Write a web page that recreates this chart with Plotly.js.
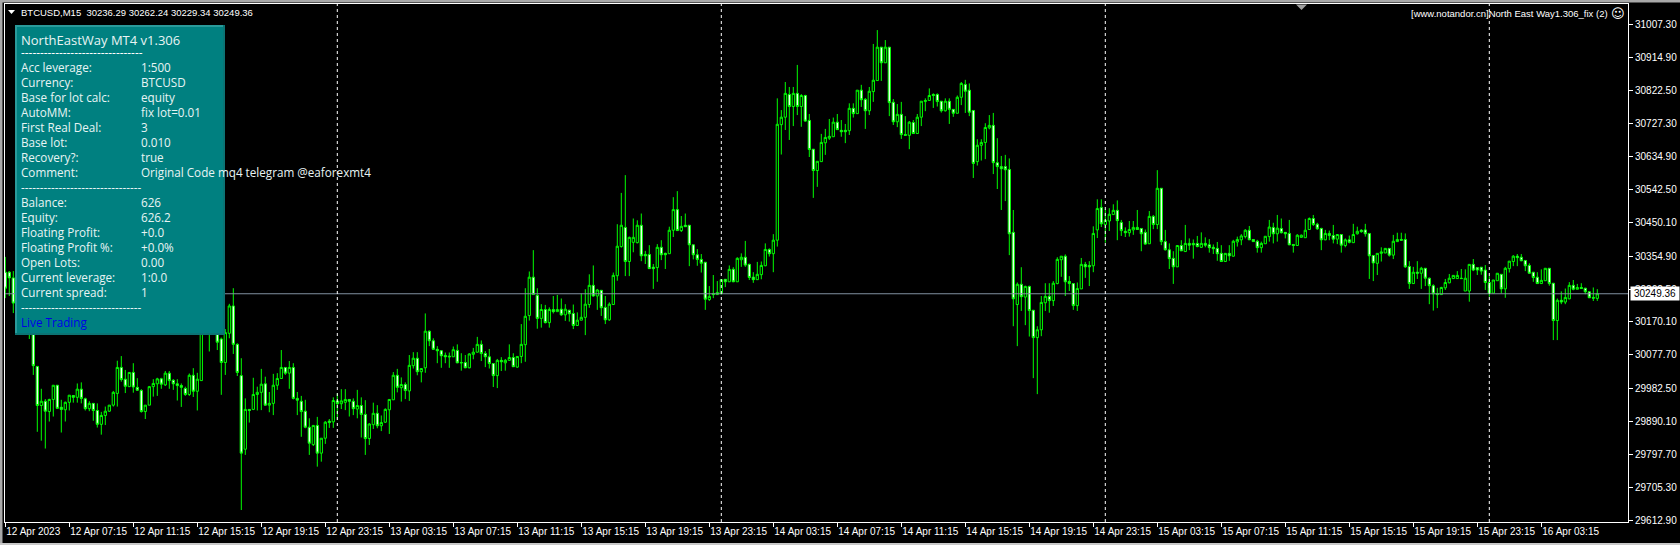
<!DOCTYPE html>
<html><head><meta charset="utf-8">
<script src="https://cdn.plot.ly/plotly-3.0.1.min.js"></script>
<style>html,body{margin:0;padding:0;background:#000;overflow:hidden}#c{width:1680px;height:545px}</style>
</head><body><div id="c"></div>
<script>
const opens=[30310,30310,30294,30232,30204,30246,30218,30198,30045,29935,
29947,29918,29952,29992,29930,29923,29944,29963,29958,29981,
29954,29926,29941,29921,29882,29907,29919,29936,29969,30042,
30009,29988,30028,29986,29977,29918,29936,29988,29996,30010,
29993,30026,30006,29996,29991,29983,29966,30020,29975,30005,
30150,30190,30160,30200,30122,30056,30138,30215,30107,30019,
29812,29924,29924,29966,29972,29996,29936,29941,29992,30011,
30042,30026,30042,29955,29947,29919,29874,29825,29879,29801,
29843,29891,29889,29948,29940,29944,29952,29947,29925,29935,
29910,29842,29881,29913,29878,29888,29923,29951,30020,29985,
29994,29976,30047,30068,30030,30041,30144,30117,30093,30089,
30076,30074,30072,30090,30056,30056,30041,30079,30085,30107,
30081,30072,30053,30019,30062,30055,30062,30070,30043,30073,
30106,30188,30296,30245,30180,30205,30168,30205,30199,30206,
30190,30203,30194,30160,30175,30183,30219,30273,30243,30259,
30211,30176,30219,30300,30382,30436,30340,30394,30393,30442,
30360,30360,30324,30323,30380,30363,30362,30428,30486,30427,
30442,30442,30387,30359,30346,30338,30233,30250,30247,30250,
30290,30283,30318,30283,30345,30352,30332,30296,30289,30303,
30328,30374,30362,30400,30725,30746,30810,30776,30813,30776,
30807,30737,30656,30596,30621,30674,30687,30691,30732,30709,
30709,30708,30771,30756,30822,30796,30764,30818,30849,30943,
30899,30943,30788,30733,30754,30697,30695,30731,30700,30746,
30790,30793,30810,30810,30791,30764,30791,30768,30757,30802,
30838,30822,30765,30621,30667,30675,30716,30723,30618,30607,
30607,30599,30422,30219,30276,30240,30270,30203,30126,30148,
30224,30242,30230,30278,30345,30355,30284,30278,30216,30263,
30332,30329,30328,30429,30492,30444,30454,30472,30484,30450,
30425,30421,30429,30436,30433,30422,30390,30467,30444,30546,
30396,30373,30349,30325,30385,30368,30391,30391,30391,30380,
30391,30387,30380,30377,30363,30340,30363,30355,30395,30401,
30410,30428,30402,30397,30379,30390,30410,30436,30418,30433,
30422,30419,30388,30385,30408,30407,30430,30461,30445,30433,
30401,30419,30413,30403,30416,30385,30401,30393,30418,30428,
30429,30419,30357,30335,30363,30364,30377,30358,30396,30402,
30402,30326,30278,30310,30307,30321,30293,30272,30250,30247,
30266,30280,30292,30292,30293,30257,30257,30332,30323,30324,
30316,30281,30251,30286,30304,30263,30320,30340,30355,30352,
30343,30329,30310,30296,30278,30286,30321,30279,30174,30231,
30226,30235,30273,30262,30267,30265,30255,30239,30236.29];
const highs=[30353,30313,30313,30260,30232,30274,30254,30218,30045,29982,
29953,29954,29992,29992,29951,29946,29964,29964,29997,30000,
29957,29947,29941,29941,29917,29932,29936,29976,30061,30074,
30035,30028,30054,30012,29981,29936,29990,30009,30013,30013,
30032,30032,30009,30009,29997,29988,30025,30040,30027,30160,
30195,30230,30180,30210,30126,30150,30221,30265,30110,30068,
29955,29924,30013,29988,30038,30016,29973,30024,30026,30091,
30042,30060,30054,29973,29962,29951,29899,29879,29903,29843,
29891,29897,29958,29969,29981,29981,29952,29955,29979,29958,
29950,29885,29943,29936,29907,29927,29952,30029,30038,30014,
30000,30077,30085,30085,30040,30194,30146,30124,30102,30091,
30084,30084,30101,30107,30082,30077,30082,30097,30128,30118,
30088,30094,30053,30066,30071,30066,30107,30082,30073,30164,
30265,30312,30372,30265,30220,30218,30211,30243,30246,30236,
30220,30204,30219,30197,30250,30262,30304,30329,30263,30260,
30243,30225,30309,30445,30533,30583,30410,30461,30456,30475,
30370,30386,30333,30389,30400,30365,30438,30521,30538,30468,
30475,30442,30387,30375,30361,30338,30271,30302,30285,30289,
30290,30329,30324,30352,30363,30398,30334,30310,30339,30340,
30391,30377,30417,30799,30766,30845,30831,30831,30893,30811,
30809,30755,30656,30622,30699,30713,30741,30745,30755,30738,
30727,30785,30785,30822,30837,30800,30831,30952,30991,30943,
30963,30943,30797,30783,30789,30749,30735,30738,30755,30791,
30799,30827,30813,30813,30791,30799,30799,30768,30807,30845,
30851,30841,30765,30684,30684,30729,30752,30758,30687,30637,
30640,30630,30485,30281,30324,30272,30272,30203,30158,30243,
30279,30279,30285,30352,30355,30360,30299,30279,30281,30350,
30339,30341,30439,30515,30515,30487,30490,30501,30512,30457,
30436,30454,30454,30485,30433,30430,30482,30471,30597,30546,
30429,30391,30369,30385,30400,30443,30405,30402,30412,30422,
30408,30403,30388,30395,30386,30363,30386,30401,30410,30417,
30431,30440,30402,30401,30396,30411,30457,30449,30471,30461,
30422,30457,30388,30417,30416,30460,30464,30471,30449,30435,
30429,30427,30443,30417,30417,30405,30413,30446,30438,30431,
30446,30419,30357,30363,30380,30377,30377,30415,30421,30421,
30419,30341,30325,30341,30325,30321,30295,30276,30266,30269,
30291,30305,30301,30313,30319,30318,30332,30347,30323,30324,
30330,30299,30288,30307,30304,30325,30341,30358,30361,30361,
30343,30335,30310,30310,30318,30321,30321,30279,30236,30256,
30264,30282,30288,30277,30279,30266,30255,30267,30262.24];
const lows=[30237,30243,30195,30175,30161,30181,30122,30021,29861,29836,
29814,29890,29904,29925,29859,29890,29921,29943,29943,29941,
29921,29919,29892,29873,29853,29880,29917,29932,29932,30002,
29970,29988,29971,29976,29915,29897,29936,29960,29962,29982,
29990,29982,29979,29949,29931,29962,29962,29959,29921,30005,
30140,30087,30140,30091,29965,30021,30124,30080,30018,29641,
29796,29887,29922,29921,29922,29934,29916,29908,29979,30010,
30021,29982,29952,29908,29847,29871,29796,29821,29763,29777,
29827,29872,29872,29894,29925,29922,29904,29908,29899,29845,
29796,29824,29869,29871,29863,29886,29855,29951,29972,29946,
29953,29948,30039,30020,30000,30027,30102,30091,30054,30041,
30054,30041,30072,30054,30033,30040,30040,30065,30084,30060,
30043,30039,29987,29984,30032,30033,30061,30044,30041,30054,
30058,30174,30247,30151,30154,30166,30154,30194,30199,30187,
30173,30171,30150,30160,30175,30133,30210,30241,30204,30187,
30164,30173,30219,30286,30379,30299,30299,30366,30391,30341,
30333,30320,30263,30283,30344,30319,30362,30409,30427,30423,
30438,30327,30346,30328,30309,30204,30229,30237,30246,30247,
30268,30283,30282,30283,30325,30325,30288,30280,30289,30290,
30327,30354,30310,30382,30641,30710,30682,30721,30752,30719,
30733,30634,30519,30550,30621,30640,30682,30691,30710,30691,
30673,30696,30745,30756,30775,30713,30752,30789,30849,30848,
30899,30749,30724,30718,30685,30695,30656,30699,30700,30721,
30763,30793,30772,30776,30759,30762,30727,30747,30757,30780,
30758,30749,30575,30610,30624,30628,30712,30586,30544,30485,
30510,30358,30158,30102,30201,30161,30129,30012,29967,30130,
30201,30196,30215,30276,30297,30243,30257,30204,30201,30263,
30294,30271,30310,30406,30437,30393,30426,30472,30400,30412,
30409,30410,30415,30429,30369,30387,30390,30431,30431,30386,
30371,30319,30277,30325,30370,30368,30372,30348,30380,30378,
30380,30365,30361,30342,30340,30340,30342,30354,30382,30386,
30405,30401,30396,30365,30365,30390,30396,30391,30396,30419,
30405,30386,30365,30385,30407,30407,30429,30440,30429,30372,
30400,30400,30391,30389,30365,30380,30391,30393,30416,30421,
30410,30291,30285,30302,30340,30364,30354,30347,30395,30399,
30322,30263,30278,30291,30263,30271,30220,30202,30209,30246,
30260,30279,30291,30291,30291,30257,30227,30313,30302,30303,
30260,30241,30251,30286,30250,30238,30309,30327,30327,30341,
30313,30305,30283,30277,30278,30286,30272,30119,30119,30220,
30220,30234,30259,30262,30263,30248,30238,30229,30229.34];
const closes=[30265,30294,30223,30204,30246,30218,30198,30047,29935,29947,
29919,29952,29992,29927,29924,29944,29964,29958,29981,29955,
29926,29941,29921,29882,29907,29919,29936,29972,30042,30008,
29989,30028,29987,29978,29918,29936,29988,29997,30010,29995,
30026,30005,29996,29991,29986,29966,30020,29975,30009,30150,
30190,30160,30150,30113,30056,30140,30215,30107,30028,29801,
29924,29921,29966,29972,29995,29936,29941,29992,30011,30042,
30026,30042,29955,29950,29918,29874,29829,29879,29801,29843,
29888,29887,29949,29940,29948,29952,29947,29926,29935,29910,
29842,29883,29913,29878,29887,29924,29952,30020,29986,29994,
29977,30048,30068,30030,30039,30144,30117,30093,30089,30075,
30072,30072,30092,30055,30055,30041,30080,30085,30107,30081,
30072,30053,30019,30062,30058,30062,30070,30044,30073,30107,
30186,30296,30247,30180,30205,30168,30205,30199,30205,30190,
30206,30193,30160,30175,30183,30220,30273,30243,30260,30210,
30176,30220,30301,30383,30442,30340,30408,30408,30442,30356,
30356,30320,30320,30380,30359,30359,30428,30486,30427,30439,
30438,30387,30359,30346,30335,30234,30242,30247,30253,30289,
30283,30318,30283,30349,30352,30330,30295,30289,30304,30329,
30374,30362,30400,30726,30746,30813,30776,30813,30776,30807,
30735,30655,30596,30622,30675,30689,30692,30732,30711,30705,
30705,30771,30756,30822,30795,30764,30819,30850,30943,30899,
30943,30787,30733,30754,30697,30695,30732,30700,30746,30791,
30793,30807,30807,30790,30764,30791,30768,30757,30802,30841,
30819,30760,30616,30667,30675,30717,30723,30618,30607,30601,
30598,30418,30235,30276,30241,30270,30202,30126,30148,30225,
30242,30230,30279,30346,30355,30283,30278,30216,30264,30332,
30325,30325,30419,30489,30446,30456,30473,30484,30455,30427,
30421,30430,30436,30430,30418,30389,30467,30444,30546,30396,
30373,30348,30325,30385,30370,30391,30386,30387,30382,30391,
30386,30379,30376,30362,30340,30363,30356,30397,30402,30412,
30428,30401,30396,30379,30391,30411,30437,30418,30434,30421,
30418,30387,30385,30414,30414,30428,30461,30444,30432,30401,
30419,30413,30403,30416,30386,30401,30394,30416,30425,30424,
30418,30356,30336,30363,30367,30377,30358,30397,30402,30400,
30325,30278,30310,30307,30321,30293,30272,30249,30247,30267,
30281,30293,30301,30301,30292,30293,30332,30316,30316,30313,
30281,30251,30288,30307,30263,30321,30341,30355,30351,30342,
30328,30307,30295,30278,30287,30321,30278,30174,30231,30226,
30239,30273,30262,30267,30264,30255,30238,30237,30249.36];
const priceTicks=[31007.30,30914.90,30822.50,30727.30,30634.90,30542.50,30450.10,30354.90,30262.50,30170.10,30077.70,29982.50,29890.10,29797.70,29705.30,29612.90];
const timeTickBars=[0,16,32,48,64,80,96,112,128,144,160,176,192,208,224,240,256,272,288,304,320,336,352,368,384];
const timeTickLabels=["12 Apr 2023","12 Apr 07:15","12 Apr 11:15","12 Apr 15:15","12 Apr 19:15","12 Apr 23:15","13 Apr 03:15","13 Apr 07:15","13 Apr 11:15","13 Apr 15:15","13 Apr 19:15","13 Apr 23:15","14 Apr 03:15","14 Apr 07:15","14 Apr 11:15","14 Apr 15:15","14 Apr 19:15","14 Apr 23:15","15 Apr 03:15","15 Apr 07:15","15 Apr 11:15","15 Apr 15:15","15 Apr 19:15","15 Apr 23:15","16 Apr 03:15"];
const periodSeparators=[83,179,275,371];
const lastPrice=30249.36;
const panelRows=[["Acc leverage:","1:500"],["Currency:","BTCUSD"],["Base for lot calc:","equity"],["AutoMM:","fix lot=0.01"],["First Real Deal:","3"],["Base lot:","0.010"],["Recovery?:","true"],["Comment:","Original Code mq4 telegram @eaforexmt4"],["--------------------------------",""],["Balance:","626"],["Equity:","626.2"],["Floating Profit:","+0.0"],["Floating Profit %:","+0.0%"],["Open Lots:","0.00"],["Current leverage:","1:0.0"],["Current spread:","1"],["--------------------------------",""]];

const L=5,T=4,W=1623,H=518;
const px=v=>(v-L)/W, py=v=>(T+H-v)/H;
const UI='"Liberation Sans",sans-serif';
const PF='"Open Sans","Noto Sans",sans-serif';
const rect=(x0,y0,x1,y1,c)=>({type:'rect',xref:'paper',yref:'paper',x0:px(x0),x1:px(x1),y0:py(y0),y1:py(y1),fillcolor:c,line:{width:0},layer:'above'});
const shapes=[];
shapes.push({type:'line',xref:'paper',yref:'y',x0:0,x1:1,y0:lastPrice,y1:lastPrice,line:{color:'#8090a0',width:1},layer:'above'});
periodSeparators.forEach(b=>shapes.push({type:'line',xref:'x',yref:'paper',x0:b,x1:b,y0:0,y1:1,line:{color:'#ffffff',width:1,dash:'3px,3px'},layer:'above'}));
shapes.push(rect(15,25,225,335,'#0b7474'));
shapes.push(rect(15,25,223,333,'#2a9a9a'));
shapes.push(rect(17,27,223,333,'#008080'));
shapes.push(rect(0,0,1680,2.5,'#a8a8a8'));
shapes.push(rect(0,0,2.5,545,'#a8a8a8'));
shapes.push(rect(0,543,1680,545,'#c8c8c8'));
shapes.push({type:'path',xref:'paper',yref:'paper',path:`M${px(1296)},${py(4.5)} L${px(1307)},${py(4.5)} L${px(1301.5)},${py(10)} Z`,fillcolor:'#a0a0a0',line:{width:0},layer:'above'});
shapes.push({type:'path',xref:'paper',yref:'paper',path:`M${px(8)},${py(10)} L${px(15)},${py(10)} L${px(11.5)},${py(14)} Z`,fillcolor:'#ffffff',line:{width:0},layer:'above'});

const note=(text,x,y,o={})=>({text,xref:'paper',yref:'paper',x:px(x),y:py(y),xanchor:o.a||'left',yanchor:'middle',showarrow:false,borderpad:0,
  font:{family:o.f||PF,size:o.s||11,color:o.c||'#ffffff'}});
const ann=[];
ann.push(note('BTCUSD,M15&nbsp;&nbsp;30236.29 30262.24 30229.34 30249.36',20,12.5,{f:UI,s:9.5}));
ann.push(note('[www.notandor.cn]North East Way1.306_fix (2)',1609,14,{f:UI,s:9.5,a:'right'}));
ann.push(note('☺',1610,14,{f:'"DejaVu Sans"',s:13}));
ann.push(note('NorthEastWay MT4 v1.306',20,39.5,{s:13,c:'#e8f4f4'}));
ann.push(note('--------------------------------',20,52,{s:11.8}));
panelRows.forEach((r,k)=>{const y=67+15*k;ann.push(note(r[0],20,y,{s:11.7,c:'#e8f4f4'}));if(r[1])ann.push(note(r[1],140,y,{s:11.7,c:'#e8f4f4'}));});
ann.push(note('Live Trading',20,322,{s:11.7,c:'#0000e6'}));
ann.push({text:'30249.36',xref:'paper',yref:'y',x:px(1630),y:lastPrice,xanchor:'left',yanchor:'middle',showarrow:false,bgcolor:'#ffffff',borderpad:1,width:46,align:'center',font:{family:UI,size:10,color:'#000000'}});

const bars=opens.map((_,i)=>i);
Plotly.newPlot('c',[{type:'candlestick',x:bars,open:opens,high:highs,low:lows,close:closes,
  increasing:{line:{color:'#00ff00',width:1},fillcolor:'#000000'},
  decreasing:{line:{color:'#00ff00',width:1},fillcolor:'#ffffff'},whiskerwidth:0,hoverinfo:'skip'}],
{width:1680,height:545,margin:{l:L,r:52,t:T,b:23,pad:0},paper_bgcolor:'#000',plot_bgcolor:'#000',showlegend:false,boxgap:0.25,boxgroupgap:0.25,
 xaxis:{type:'linear',range:[-0.075,405.675],rangeslider:{visible:false},tickmode:'array',tickvals:timeTickBars,ticktext:timeTickLabels,tickangle:0,ticklabelposition:'outside right',ticks:'outside',ticklen:4,tickcolor:'#fff',tickfont:{family:UI,size:10,color:'#fff'},showgrid:false,zeroline:false,showline:true,linecolor:'#fff',linewidth:1,mirror:true},
 yaxis:{side:'right',range:[29607.3,31064.4],tickmode:'array',tickvals:priceTicks,ticktext:priceTicks.map(v=>v.toFixed(2)),ticks:'outside',ticklen:4,tickcolor:'#fff',tickfont:{family:UI,size:10,color:'#fff'},showgrid:false,zeroline:false,showline:true,linecolor:'#fff',linewidth:1,mirror:true},
 shapes,annotations:ann},{staticPlot:true,displayModeBar:false});
</script></body></html>
